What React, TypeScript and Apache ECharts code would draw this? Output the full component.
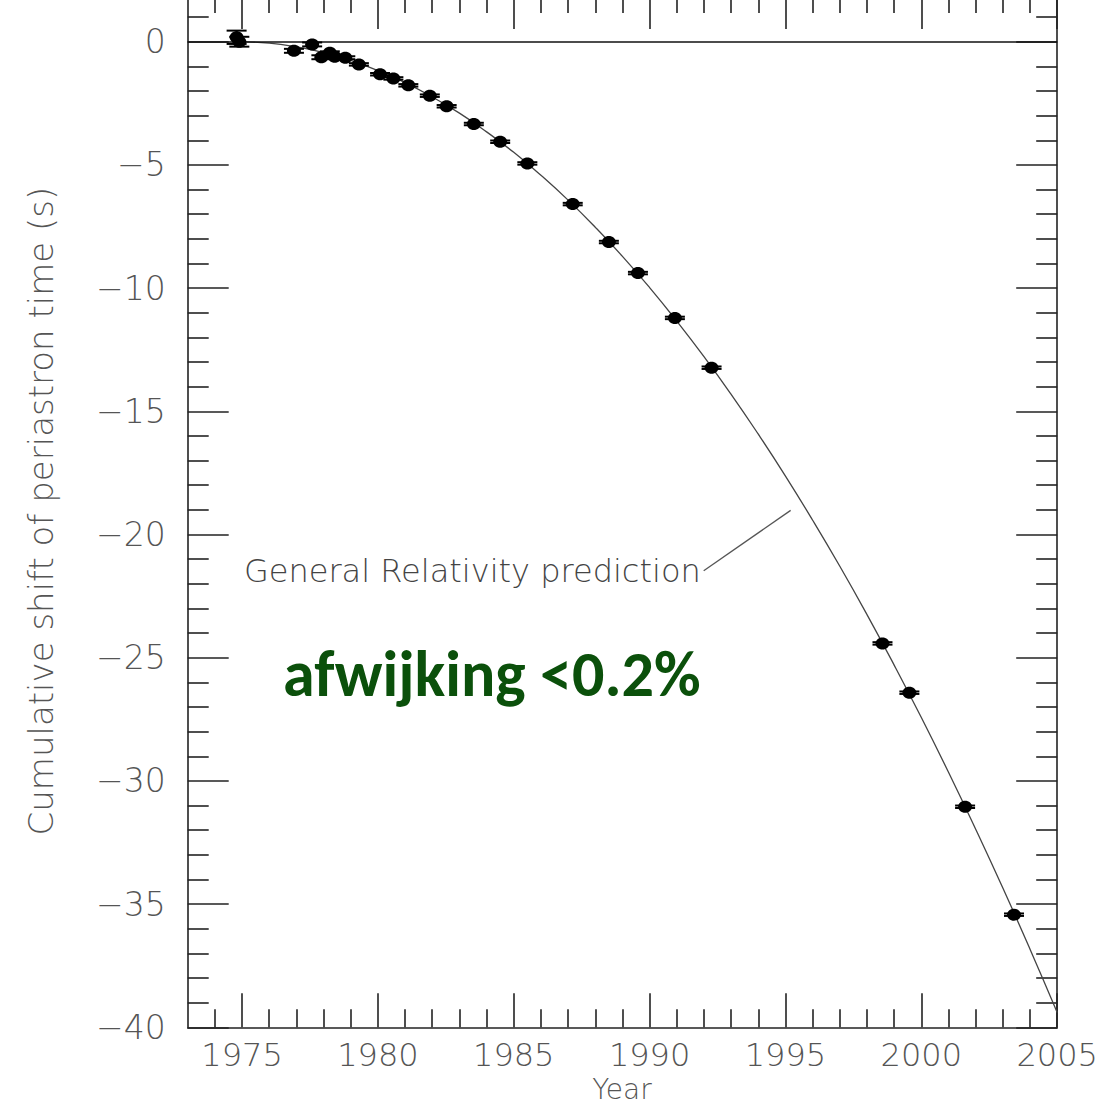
import React, { useEffect, useRef } from "react";
import * as echarts from "echarts";

// ---- axis ranges & ticks ----
const X_MIN = 1973;
const X_MAX = 2005;
const Y_MIN = -40;
const Y_MAX = 1.9;
const majorYears = [1975, 1980, 1985, 1990, 1995, 2000, 2005];
const minorYears = [
  1974, 1976, 1977, 1978, 1979, 1981, 1982, 1983, 1984, 1986, 1987, 1988, 1989,
  1991, 1992, 1993, 1994, 1996, 1997, 1998, 1999, 2001, 2002, 2003, 2004,
];
const majorShifts = [-40, -35, -30, -25, -20, -15, -10, -5, 0];
const minorShifts = [
  -39, -38, -37, -36, -34, -33, -32, -31, -29, -28, -27, -26, -24, -23, -22, -21,
  -19, -18, -17, -16, -14, -13, -12, -11, -9, -8, -7, -6, -4, -3, -2, -1, 1,
];

// ---- measured points ----
const pointYears = [
  1974.8, 1974.9, 1976.91, 1977.58, 1977.92, 1978.23, 1978.41, 1978.8, 1979.3,
  1980.08, 1980.57, 1981.12, 1981.91, 1982.53, 1983.53, 1984.5, 1985.5, 1987.17,
  1988.5, 1989.57, 1990.93, 1992.28, 1998.57, 1999.56, 2001.61, 2003.41,
];
const pointShifts = [
  0.18, 0.0, -0.37, -0.11, -0.63, -0.45, -0.61, -0.65, -0.92, -1.32, -1.49, -1.77,
  -2.19, -2.62, -3.34, -4.06, -4.94, -6.59, -8.13, -9.39, -11.21, -13.23, -24.42,
  -26.42, -31.05, -35.43,
];
const pointErrors = [
  0.27, 0.2, 0.08, 0.08, 0.08, 0.06, 0.06, 0.06, 0.05, 0.05, 0.05, 0.05, 0.05,
  0.05, 0.05, 0.05, 0.05, 0.05, 0.05, 0.05, 0.05, 0.05, 0.05, 0.05, 0.05, 0.05,
];

// ---- General Relativity prediction curve ----
const curveYears = [
  1974.8, 1976, 1977, 1978, 1979, 1980, 1981, 1982, 1983, 1984, 1985, 1986, 1987,
  1988, 1989, 1990, 1991, 1992, 1993, 1994, 1995, 1996, 1997, 1998, 1999, 2000,
  2001, 2002, 2003, 2004, 2005,
];
const curveShifts = [
  0, -0.06, -0.21, -0.44, -0.76, -1.17, -1.66, -2.24, -2.9, -3.66, -4.49, -5.42,
  -6.43, -7.53, -8.71, -9.98, -11.34, -12.78, -14.31, -15.93, -17.63, -19.42,
  -21.29, -23.25, -25.3, -27.43, -29.65, -31.96, -34.35, -36.83, -39.4,
];

// annotation pointer (data coordinates)
const pointerStart = [1991.99, -21.47];
const pointerEnd = [1995.19, -19.02];

const AXIS_COLOR = "#222";
const LABEL_COLOR = "#555";
const THIN_FONT = "'DejaVu Sans', sans-serif";

function App() {
  const ref = useRef<HTMLDivElement>(null);

  useEffect(() => {
    if (!ref.current) return;
    const chart = echarts.init(ref.current, null, { renderer: "svg" });

    const lineStyle = { color: AXIS_COLOR, width: 1.6 };
    const fmt = (v: number) => (v < 0 ? "\u2212" + Math.abs(v) : String(v));

    const makeX = (position: string, major: boolean, withLabel: boolean): any => ({
      type: "value",
      position,
      min: X_MIN,
      max: X_MAX,
      axisLine: { show: major, onZero: false, lineStyle },
      axisTick: {
        show: true,
        inside: true,
        length: major ? 34 : 18,
        customValues: major ? majorYears : minorYears,
        lineStyle,
      },
      axisLabel: withLabel
        ? {
            show: true,
            customValues: majorYears,
            margin: 12,
            fontFamily: THIN_FONT,
            fontSize: 32,
            fontWeight: 200,
            color: LABEL_COLOR,
            formatter: (v: number) => String(v),
          }
        : { show: false },
      splitLine: { show: false },
    });

    const makeY = (position: string, major: boolean, withLabel: boolean): any => ({
      type: "value",
      position,
      min: Y_MIN,
      max: Y_MAX,
      axisLine: { show: major, onZero: false, lineStyle },
      axisTick: {
        show: true,
        inside: true,
        length: major ? 41 : 21,
        customValues: major ? majorShifts : minorShifts,
        lineStyle,
      },
      axisLabel: withLabel
        ? {
            show: true,
            customValues: majorShifts,
            margin: 22,
            fontFamily: THIN_FONT,
            fontSize: 33,
            fontWeight: 200,
            color: LABEL_COLOR,
            formatter: fmt,
          }
        : { show: false },
      splitLine: { show: false },
      ...(withLabel
        ? {
            name: "Cumulative shift of periastron time (s)",
            nameLocation: "middle",
            nameGap: 130,
            nameTextStyle: {
              fontFamily: THIN_FONT,
              fontSize: 34,
              fontWeight: 200,
              color: LABEL_COLOR,
            },
          }
        : {}),
    });

    const points = pointYears.map((x, i) => [x, pointShifts[i], pointErrors[i]]);
    const curve = curveYears.map((x, i) => [x, curveShifts[i]]);

    const option: any = {
      animation: false,
      backgroundColor: "#fff",
      grid: {
        left: 187.7,
        right: 60.8,
        top: -5.1,
        bottom: 80.7,
        containLabel: false,
        outerBoundsMode: "none",
      },
      xAxis: [
        makeX("bottom", true, true),
        makeX("bottom", false, false),
        makeX("top", true, false),
        makeX("top", false, false),
      ],
      yAxis: [
        makeY("left", true, true),
        makeY("left", false, false),
        makeY("right", true, false),
        makeY("right", false, false),
      ],
      series: [
        {
          type: "line",
          xAxisIndex: 0,
          yAxisIndex: 0,
          data: curve,
          smooth: true,
          showSymbol: false,
          lineStyle: { color: "#444", width: 1.3 },
          z: 2,
          markLine: {
            silent: true,
            symbol: ["none", "none"],
            label: { show: false },
            data: [
              { yAxis: 0, lineStyle: { color: "#111", width: 1.6, type: "solid" } },
              [
                { coord: pointerStart, lineStyle: { color: "#555", width: 1.3, type: "solid" } },
                { coord: pointerEnd },
              ],
            ],
          },
        },
        {
          type: "custom",
          xAxisIndex: 0,
          yAxisIndex: 0,
          data: points,
          encode: { x: 0, y: 1 },
          z: 5,
          renderItem: (_params: any, api: any) => {
            const x = api.value(0);
            const y = api.value(1);
            const e = api.value(2);
            const c = api.coord([x, y]);
            const t = api.coord([x, y + e]);
            const b = api.coord([x, y - e]);
            const s = { stroke: "#000", lineWidth: 2 };
            return {
              type: "group",
              children: [
                { type: "line", shape: { x1: c[0], y1: t[1], x2: c[0], y2: b[1] }, style: s },
                { type: "line", shape: { x1: c[0] - 10, y1: t[1], x2: c[0] + 10, y2: t[1] }, style: s },
                { type: "line", shape: { x1: c[0] - 10, y1: b[1], x2: c[0] + 10, y2: b[1] }, style: s },
                { type: "ellipse", shape: { cx: c[0], cy: c[1], rx: 7, ry: 6 }, style: { fill: "#000" } },
              ],
            };
          },
        },
      ],
      graphic: [
        {
          type: "text",
          x: 622,
          y: 1075,
          style: {
            text: "Year",
            font: "200 28px 'DejaVu Sans', sans-serif",
            fill: LABEL_COLOR,
            align: "center",
            verticalAlign: "top",
          },
        },
        {
          type: "text",
          left: 244,
          top: 555,
          style: {
            text: "General Relativity prediction",
            font: "200 32px 'DejaVu Sans', sans-serif",
            fill: "#444",
          },
        },
        {
          type: "text",
          left: 283,
          top: 642,
          style: {
            text: "afwijking <0.2%",
            font: "bold 64px Carlito, Lato, 'Open Sans', sans-serif",
            fill: "#0b500b",
          },
        },
      ],
    };

    chart.setOption(option);
    return () => chart.dispose();
  }, []);

  return (
    <div
      ref={ref}
      style={{ position: "fixed", left: 0, top: 0, width: 1118, height: 1108, background: "#fff" }}
    />
  );
}

export default App;
